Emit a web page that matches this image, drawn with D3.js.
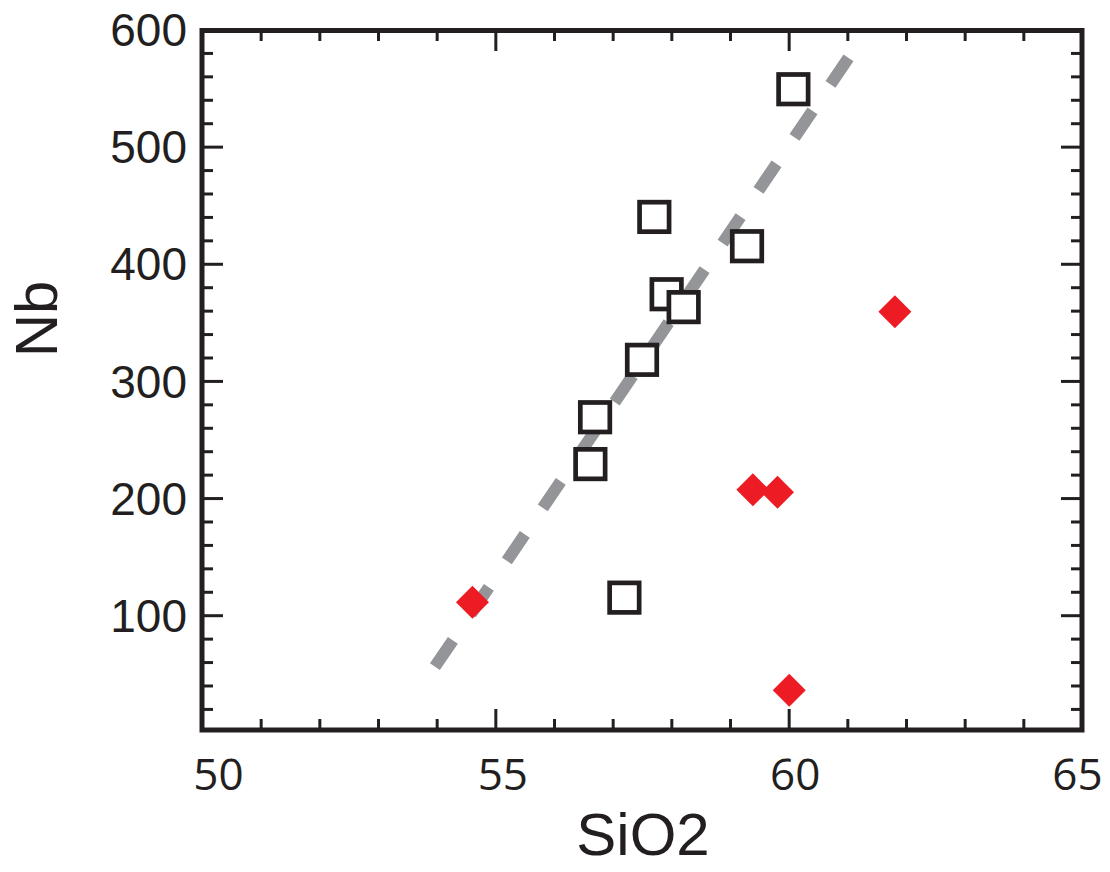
<!DOCTYPE html>
<html>
<head>
<meta charset="utf-8">
<script src="https://cdn.jsdelivr.net/npm/d3@7"></script>
<style>
  body { margin: 0; background: #fff; }
  svg { display: block; }
</style>
</head>
<body>
<div id="chart"></div>
<script>
// open squares
var squareSiO2 = [60.08, 57.71, 59.29, 57.92, 58.21, 57.50, 56.70, 56.62, 57.20];
var squareNb   = [549,   440,   415,   374,   363,   318,   269,   229,   115];
// red diamonds
var diamondSiO2 = [54.61, 60.01, 61.81, 59.39, 59.81];
var diamondNb   = [111,   36,    359,   207,   205];
// dashed trend line (two end points)
var trendSiO2 = [53.97, 61.05];
var trendNb   = [56,    578];

var xTicksMajor = [50, 55, 60, 65];
var xTicksMinor = d3.range(51, 65, 1).filter(function(d){ return d % 5 != 0; });
var yTicksMajor = [100, 200, 300, 400, 500, 600];
var yTicksMinor = d3.range(20, 600, 20).filter(function(d){ return d % 100 != 0; });

var width = 1110, height = 872;
var ink = "#231f20";

var x = d3.scaleLinear().domain([50, 65]).range([202, 1082]);
var y = d3.scaleLinear().domain([2, 600]).range([730, 29.5]);

var svg = d3.select("#chart").append("svg")
    .attr("width", width)
    .attr("height", height);

// trend line
var trend = trendSiO2.map(function(d, i){ return [d, trendNb[i]]; });
svg.append("path")
    .datum(trend)
    .attr("d", d3.line().x(function(d){ return x(d[0]); }).y(function(d){ return y(d[1]); }))
    .attr("fill", "none")
    .attr("stroke", "#939598")
    .attr("stroke-width", 12)
    .attr("stroke-dasharray", "32,32");

// squares
var squares = squareSiO2.map(function(d, i){ return {x: d, y: squareNb[i]}; });
var sq = 29.5;
svg.append("g").selectAll("rect")
    .data(squares)
    .enter().append("rect")
    .attr("x", function(d){ return x(d.x) - sq / 2; })
    .attr("y", function(d){ return y(d.y) - sq / 2; })
    .attr("width", sq)
    .attr("height", sq)
    .attr("fill", "#fff")
    .attr("stroke", ink)
    .attr("stroke-width", 4.7);

// diamonds
var diamonds = diamondSiO2.map(function(d, i){ return {x: d, y: diamondNb[i]}; });
var r = 16.5;
svg.append("g").selectAll("path")
    .data(diamonds)
    .enter().append("path")
    .attr("d", "M0," + (-r) + "L" + r + ",0L0," + r + "L" + (-r) + ",0Z")
    .attr("transform", function(d){ return "translate(" + x(d.x) + "," + y(d.y) + ")"; })
    .attr("fill", "#ed1c24");

// ticks on all four sides, pointing inward
function ticks(axis, vals, size, tr) {
  var g = svg.append("g")
      .attr("transform", tr)
      .call(axis.tickValues(vals).tickSize(-size).tickFormat(""));
  g.select(".domain").remove();
  g.selectAll(".tick line").attr("stroke", ink).attr("stroke-width", 3);
  return g;
}
ticks(d3.axisBottom(x), xTicksMinor, 11, "translate(0,730)");
ticks(d3.axisBottom(x), [55, 60], 21, "translate(0,730)");
ticks(d3.axisTop(x), xTicksMinor, 11, "translate(0,30)");
ticks(d3.axisTop(x), [55, 60], 21, "translate(0,30)");
ticks(d3.axisLeft(y), yTicksMinor, 11, "translate(202,0)");
ticks(d3.axisLeft(y), [100, 200, 300, 400, 500], 21, "translate(202,0)");
ticks(d3.axisRight(y), yTicksMinor, 11, "translate(1082,0)");
ticks(d3.axisRight(y), [100, 200, 300, 400, 500], 21, "translate(1082,0)");

// frame
svg.append("rect")
    .attr("x", x(50)).attr("y", 30.5)
    .attr("width", x(65) - x(50)).attr("height", 730 - 30.5)
    .attr("fill", "none")
    .attr("stroke", ink)
    .attr("stroke-width", 5);

// tick labels
var yLab = svg.append("g")
    .attr("transform", "translate(202,0)")
    .call(d3.axisLeft(y).tickValues(yTicksMajor).tickSize(0).tickPadding(15));
yLab.select(".domain").remove();
yLab.selectAll("text")
    .attr("font-family", "Liberation Sans, Arial, sans-serif")
    .attr("font-size", 46)
    .attr("fill", ink)
    .attr("dy", "0.35em");

var xShift = [16, 7, 6, -5];
var xLab = svg.append("g")
    .attr("transform", "translate(0,730)")
    .call(d3.axisBottom(x).tickValues(xTicksMajor).tickSize(0).tickPadding(29));
xLab.select(".domain").remove();
xLab.selectAll("text")
    .attr("font-family", "Open Sans, sans-serif")
    .attr("font-size", 44)
    .attr("fill", ink)
    .attr("dx", function(d, i){ return xShift[i]; });

// axis titles
svg.append("text")
    .attr("x", 643).attr("y", 855)
    .attr("text-anchor", "middle")
    .attr("font-family", "Liberation Sans, Arial, sans-serif")
    .attr("font-size", 60)
    .attr("fill", ink)
    .text("SiO2");

svg.append("text")
    .attr("transform", "translate(57,319) rotate(-90)")
    .attr("text-anchor", "middle")
    .attr("font-family", "Liberation Sans, Arial, sans-serif")
    .attr("font-size", 60)
    .attr("fill", ink)
    .text("Nb");
</script>
</body>
</html>
